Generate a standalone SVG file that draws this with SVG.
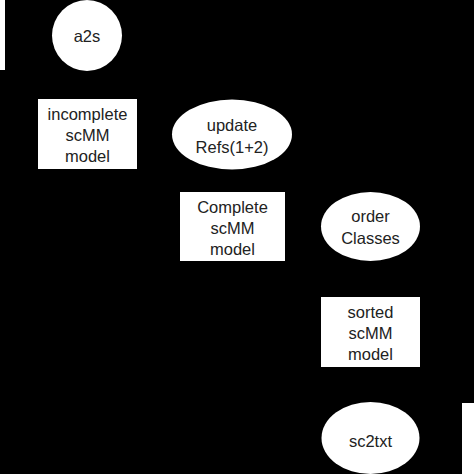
<svg xmlns="http://www.w3.org/2000/svg" width="474" height="474" viewBox="0 0 474 474">
<style>
.n{fill:#ffffff;stroke:none}
.t{font-family:"Liberation Sans",Arial,sans-serif;font-size:16.5px;fill:#222222;text-anchor:middle}
.c{stroke:#000000;stroke-width:1.5;fill:none}
</style>
<defs>
<marker id="ah" markerWidth="8" markerHeight="8" refX="7" refY="4" orient="auto"><path d="M0,0 L8,4 L0,8 z" fill="#000000"/></marker>
</defs>
<rect width="474" height="474" fill="#000000"/>
<g id="connectors">
<line class="c" x1="87" y1="71" x2="87" y2="98" marker-end="url(#ah)"/>
<line class="c" x1="137" y1="134" x2="171" y2="134" marker-end="url(#ah)"/>
<line class="c" x1="232" y1="170" x2="232" y2="191" marker-end="url(#ah)"/>
<line class="c" x1="285" y1="226" x2="320" y2="226" marker-end="url(#ah)"/>
<line class="c" x1="370" y1="262" x2="370" y2="296" marker-end="url(#ah)"/>
<line class="c" x1="370" y1="368" x2="370" y2="401" marker-end="url(#ah)"/>
</g>
<g id="left-edge"><rect class="n" x="0" y="0" width="5" height="70"/></g>
<g id="a2s"><ellipse class="n" cx="87" cy="35.5" rx="35" ry="35.5"/><text class="t" x="87" y="42">a2s</text></g>
<g id="incomplete"><rect class="n" x="38" y="99" width="99" height="70"/><text class="t" x="87.5" y="120">incomplete</text><text class="t" x="87.5" y="141">scMM</text><text class="t" x="87.5" y="162">model</text></g>
<g id="update"><ellipse class="n" cx="232" cy="134.5" rx="60" ry="35"/><text class="t" x="232" y="131">update</text><text class="t" x="232" y="153">Refs(1+2)</text></g>
<g id="complete"><rect class="n" x="180" y="192" width="105" height="69"/><text class="t" x="232.5" y="213">Complete</text><text class="t" x="232.5" y="234">scMM</text><text class="t" x="232.5" y="255">model</text></g>
<g id="order"><ellipse class="n" cx="370.5" cy="226.5" rx="49.5" ry="34.5"/><text class="t" x="370.5" y="222">order</text><text class="t" x="370.5" y="244">Classes</text></g>
<g id="sorted"><rect class="n" x="321" y="297" width="99" height="70"/><text class="t" x="370.5" y="318">sorted</text><text class="t" x="370.5" y="339">scMM</text><text class="t" x="370.5" y="360">model</text></g>
<g id="sc2txt"><ellipse class="n" cx="370.5" cy="438" rx="49" ry="36"/><text class="t" x="370.5" y="447">sc2txt</text></g>
<g id="right-edge"><rect class="n" x="462" y="403" width="12" height="71"/></g>
</svg>
